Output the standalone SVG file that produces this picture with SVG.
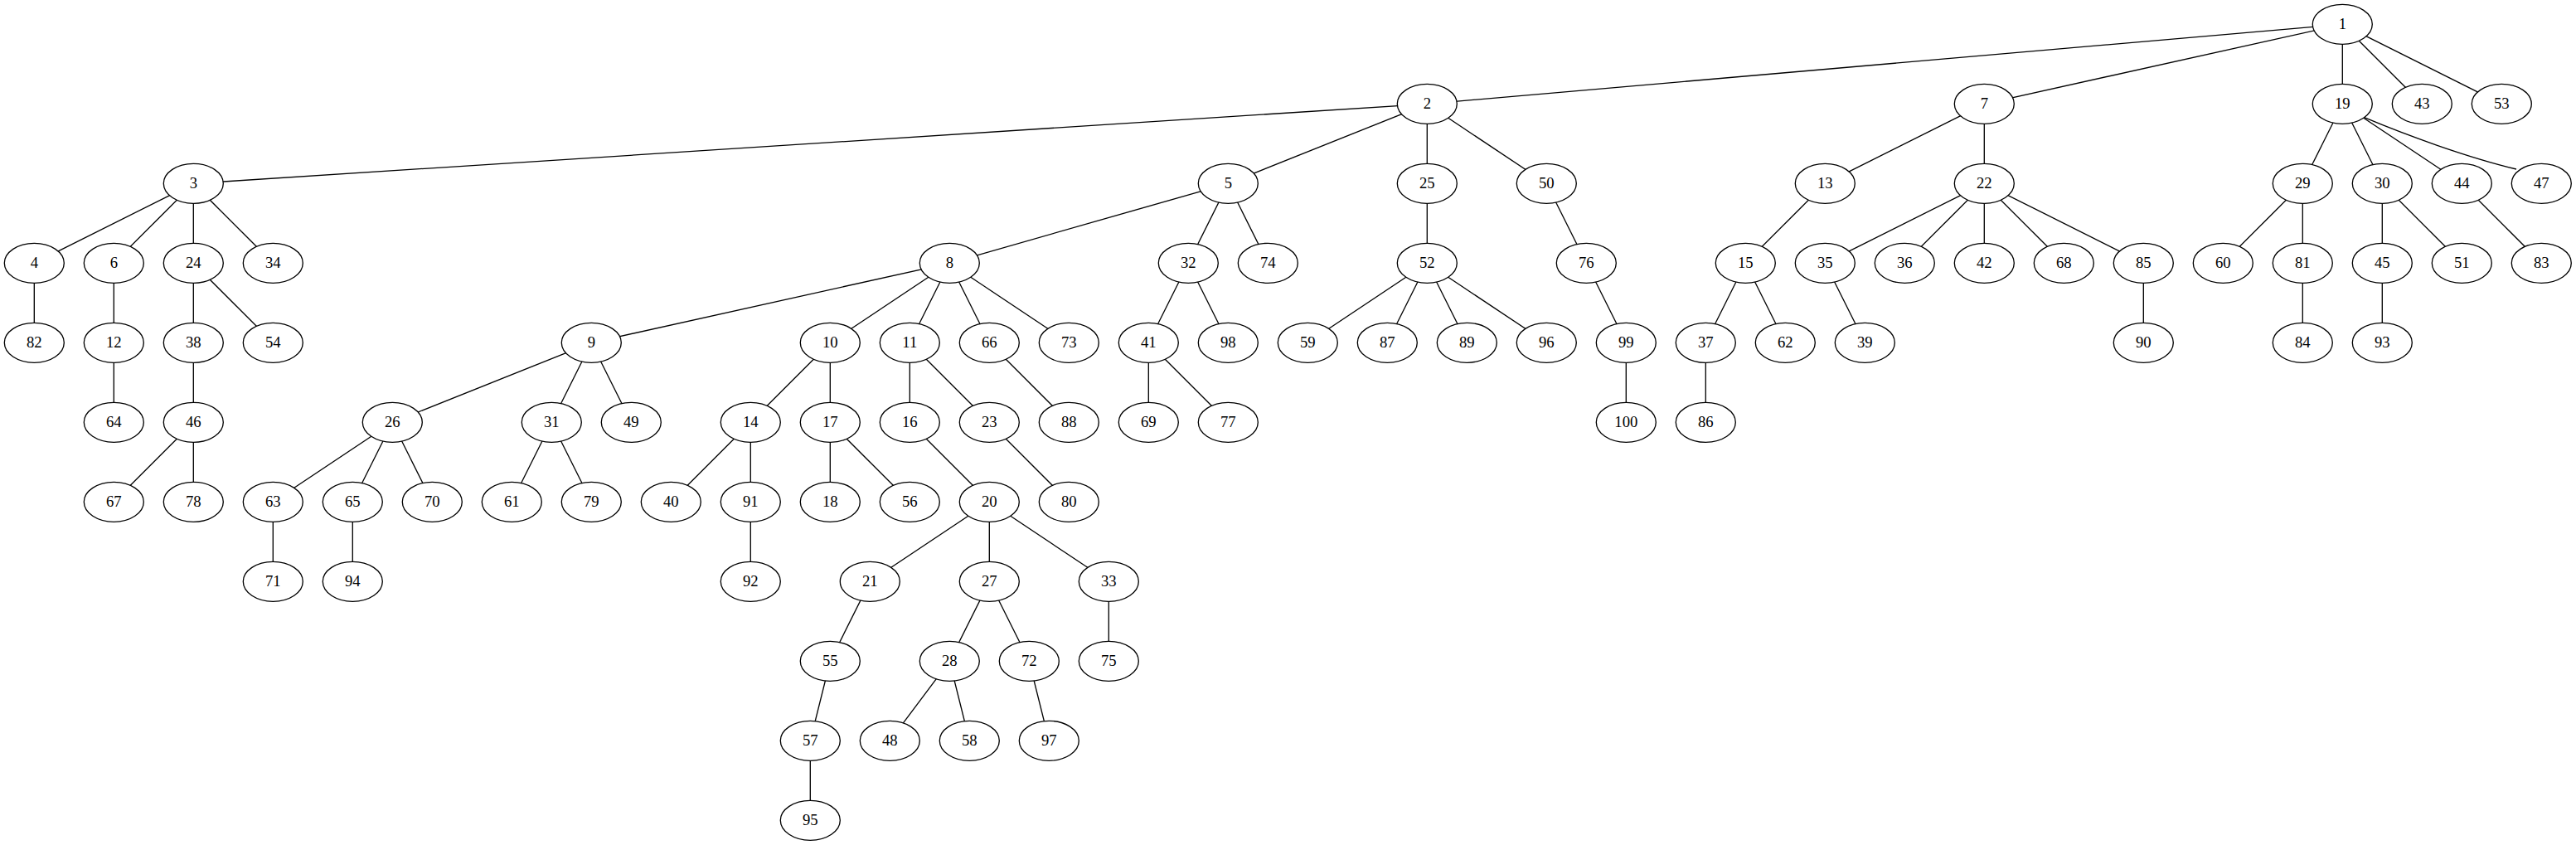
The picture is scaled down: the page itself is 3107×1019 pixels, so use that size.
<svg xmlns="http://www.w3.org/2000/svg" width="3107" height="1019" viewBox="0 0 3107 1019">
<style>
.e line, .e path { stroke: #000; stroke-width: 1.33; fill: none; }
.n ellipse { fill: #fff; stroke: #000; stroke-width: 1.33; }
.n text { font-family: "Liberation Serif", "Times New Roman", serif; font-size: 18.67px; text-anchor: middle; fill: #000; }
</style>
<rect x="0" y="0" width="3107" height="1019" fill="#fff"/>
<g id="connectors" class="e">
<line x1="2825.3" y1="29.3" x2="1721.3" y2="125.3"/>
<line x1="2825.3" y1="29.3" x2="2393.3" y2="125.3"/>
<line x1="2825.3" y1="29.3" x2="2825.3" y2="125.3"/>
<line x1="2825.3" y1="29.3" x2="2921.3" y2="125.3"/>
<line x1="2825.3" y1="29.3" x2="3017.3" y2="125.3"/>
<line x1="1721.3" y1="125.3" x2="233.3" y2="221.3"/>
<line x1="1721.3" y1="125.3" x2="1481.3" y2="221.3"/>
<line x1="1721.3" y1="125.3" x2="1721.3" y2="221.3"/>
<line x1="1721.3" y1="125.3" x2="1865.3" y2="221.3"/>
<line x1="233.3" y1="221.3" x2="41.3" y2="317.3"/>
<line x1="233.3" y1="221.3" x2="137.3" y2="317.3"/>
<line x1="233.3" y1="221.3" x2="233.3" y2="317.3"/>
<line x1="233.3" y1="221.3" x2="329.3" y2="317.3"/>
<line x1="41.3" y1="317.3" x2="41.3" y2="413.3"/>
<line x1="137.3" y1="317.3" x2="137.3" y2="413.3"/>
<line x1="137.3" y1="413.3" x2="137.3" y2="509.3"/>
<line x1="233.3" y1="317.3" x2="233.3" y2="413.3"/>
<line x1="233.3" y1="317.3" x2="329.3" y2="413.3"/>
<line x1="233.3" y1="413.3" x2="233.3" y2="509.3"/>
<line x1="233.3" y1="509.3" x2="137.3" y2="605.3"/>
<line x1="233.3" y1="509.3" x2="233.3" y2="605.3"/>
<line x1="1481.3" y1="221.3" x2="1145.3" y2="317.3"/>
<line x1="1481.3" y1="221.3" x2="1433.3" y2="317.3"/>
<line x1="1481.3" y1="221.3" x2="1529.3" y2="317.3"/>
<line x1="1145.3" y1="317.3" x2="713.3" y2="413.3"/>
<line x1="1145.3" y1="317.3" x2="1001.3" y2="413.3"/>
<line x1="1145.3" y1="317.3" x2="1097.3" y2="413.3"/>
<line x1="1145.3" y1="317.3" x2="1193.3" y2="413.3"/>
<line x1="1145.3" y1="317.3" x2="1289.3" y2="413.3"/>
<line x1="713.3" y1="413.3" x2="473.3" y2="509.3"/>
<line x1="713.3" y1="413.3" x2="665.3" y2="509.3"/>
<line x1="713.3" y1="413.3" x2="761.3" y2="509.3"/>
<line x1="473.3" y1="509.3" x2="329.3" y2="605.3"/>
<line x1="473.3" y1="509.3" x2="425.3" y2="605.3"/>
<line x1="473.3" y1="509.3" x2="521.3" y2="605.3"/>
<line x1="329.3" y1="605.3" x2="329.3" y2="701.3"/>
<line x1="425.3" y1="605.3" x2="425.3" y2="701.3"/>
<line x1="665.3" y1="509.3" x2="617.3" y2="605.3"/>
<line x1="665.3" y1="509.3" x2="713.3" y2="605.3"/>
<line x1="1001.3" y1="413.3" x2="905.3" y2="509.3"/>
<line x1="1001.3" y1="413.3" x2="1001.3" y2="509.3"/>
<line x1="905.3" y1="509.3" x2="809.3" y2="605.3"/>
<line x1="905.3" y1="509.3" x2="905.3" y2="605.3"/>
<line x1="905.3" y1="605.3" x2="905.3" y2="701.3"/>
<line x1="1001.3" y1="509.3" x2="1001.3" y2="605.3"/>
<line x1="1001.3" y1="509.3" x2="1097.3" y2="605.3"/>
<line x1="1097.3" y1="413.3" x2="1097.3" y2="509.3"/>
<line x1="1097.3" y1="413.3" x2="1193.3" y2="509.3"/>
<line x1="1097.3" y1="509.3" x2="1193.3" y2="605.3"/>
<line x1="1193.3" y1="605.3" x2="1049.3" y2="701.3"/>
<line x1="1193.3" y1="605.3" x2="1193.3" y2="701.3"/>
<line x1="1193.3" y1="605.3" x2="1337.3" y2="701.3"/>
<line x1="1049.3" y1="701.3" x2="1001.3" y2="797.3"/>
<line x1="1001.3" y1="797.3" x2="977.3" y2="893.3"/>
<line x1="977.3" y1="893.3" x2="977.3" y2="989.3"/>
<line x1="1193.3" y1="701.3" x2="1145.3" y2="797.3"/>
<line x1="1193.3" y1="701.3" x2="1241.3" y2="797.3"/>
<line x1="1145.3" y1="797.3" x2="1073.3" y2="893.3"/>
<line x1="1145.3" y1="797.3" x2="1169.3" y2="893.3"/>
<line x1="1241.3" y1="797.3" x2="1265.3" y2="893.3"/>
<line x1="1337.3" y1="701.3" x2="1337.3" y2="797.3"/>
<line x1="1193.3" y1="509.3" x2="1289.3" y2="605.3"/>
<line x1="1193.3" y1="413.3" x2="1289.3" y2="509.3"/>
<line x1="1433.3" y1="317.3" x2="1385.3" y2="413.3"/>
<line x1="1433.3" y1="317.3" x2="1481.3" y2="413.3"/>
<line x1="1385.3" y1="413.3" x2="1385.3" y2="509.3"/>
<line x1="1385.3" y1="413.3" x2="1481.3" y2="509.3"/>
<line x1="1721.3" y1="221.3" x2="1721.3" y2="317.3"/>
<line x1="1721.3" y1="317.3" x2="1577.3" y2="413.3"/>
<line x1="1721.3" y1="317.3" x2="1673.3" y2="413.3"/>
<line x1="1721.3" y1="317.3" x2="1769.3" y2="413.3"/>
<line x1="1721.3" y1="317.3" x2="1865.3" y2="413.3"/>
<line x1="1865.3" y1="221.3" x2="1913.3" y2="317.3"/>
<line x1="1913.3" y1="317.3" x2="1961.3" y2="413.3"/>
<line x1="1961.3" y1="413.3" x2="1961.3" y2="509.3"/>
<line x1="2393.3" y1="125.3" x2="2201.3" y2="221.3"/>
<line x1="2393.3" y1="125.3" x2="2393.3" y2="221.3"/>
<line x1="2201.3" y1="221.3" x2="2105.3" y2="317.3"/>
<line x1="2105.3" y1="317.3" x2="2057.3" y2="413.3"/>
<line x1="2105.3" y1="317.3" x2="2153.3" y2="413.3"/>
<line x1="2057.3" y1="413.3" x2="2057.3" y2="509.3"/>
<line x1="2393.3" y1="221.3" x2="2201.3" y2="317.3"/>
<line x1="2393.3" y1="221.3" x2="2297.3" y2="317.3"/>
<line x1="2393.3" y1="221.3" x2="2393.3" y2="317.3"/>
<line x1="2393.3" y1="221.3" x2="2489.3" y2="317.3"/>
<line x1="2393.3" y1="221.3" x2="2585.3" y2="317.3"/>
<line x1="2201.3" y1="317.3" x2="2249.3" y2="413.3"/>
<line x1="2585.3" y1="317.3" x2="2585.3" y2="413.3"/>
<line x1="2825.3" y1="125.3" x2="2777.3" y2="221.3"/>
<line x1="2825.3" y1="125.3" x2="2873.3" y2="221.3"/>
<line x1="2825.3" y1="125.3" x2="2969.3" y2="221.3"/>
<path d="M2851.7,141.7 C2901.7,162.7 2975,189.6 3035,204"/>
<line x1="2777.3" y1="221.3" x2="2681.3" y2="317.3"/>
<line x1="2777.3" y1="221.3" x2="2777.3" y2="317.3"/>
<line x1="2777.3" y1="317.3" x2="2777.3" y2="413.3"/>
<line x1="2873.3" y1="221.3" x2="2873.3" y2="317.3"/>
<line x1="2873.3" y1="221.3" x2="2969.3" y2="317.3"/>
<line x1="2873.3" y1="317.3" x2="2873.3" y2="413.3"/>
<line x1="2969.3" y1="221.3" x2="3065.3" y2="317.3"/>
</g>
<g id="nodes" class="n">
<g id="n1"><ellipse cx="2825.3" cy="29.3" rx="36" ry="24"/><text x="2825.3" y="35.3">1</text></g>
<g id="n2"><ellipse cx="1721.3" cy="125.3" rx="36" ry="24"/><text x="1721.3" y="131.3">2</text></g>
<g id="n7"><ellipse cx="2393.3" cy="125.3" rx="36" ry="24"/><text x="2393.3" y="131.3">7</text></g>
<g id="n19"><ellipse cx="2825.3" cy="125.3" rx="36" ry="24"/><text x="2825.3" y="131.3">19</text></g>
<g id="n43"><ellipse cx="2921.3" cy="125.3" rx="36" ry="24"/><text x="2921.3" y="131.3">43</text></g>
<g id="n53"><ellipse cx="3017.3" cy="125.3" rx="36" ry="24"/><text x="3017.3" y="131.3">53</text></g>
<g id="n3"><ellipse cx="233.3" cy="221.3" rx="36" ry="24"/><text x="233.3" y="227.3">3</text></g>
<g id="n5"><ellipse cx="1481.3" cy="221.3" rx="36" ry="24"/><text x="1481.3" y="227.3">5</text></g>
<g id="n25"><ellipse cx="1721.3" cy="221.3" rx="36" ry="24"/><text x="1721.3" y="227.3">25</text></g>
<g id="n50"><ellipse cx="1865.3" cy="221.3" rx="36" ry="24"/><text x="1865.3" y="227.3">50</text></g>
<g id="n13"><ellipse cx="2201.3" cy="221.3" rx="36" ry="24"/><text x="2201.3" y="227.3">13</text></g>
<g id="n22"><ellipse cx="2393.3" cy="221.3" rx="36" ry="24"/><text x="2393.3" y="227.3">22</text></g>
<g id="n29"><ellipse cx="2777.3" cy="221.3" rx="36" ry="24"/><text x="2777.3" y="227.3">29</text></g>
<g id="n30"><ellipse cx="2873.3" cy="221.3" rx="36" ry="24"/><text x="2873.3" y="227.3">30</text></g>
<g id="n44"><ellipse cx="2969.3" cy="221.3" rx="36" ry="24"/><text x="2969.3" y="227.3">44</text></g>
<g id="n47"><ellipse cx="3065.3" cy="221.3" rx="36" ry="24"/><text x="3065.3" y="227.3">47</text></g>
<g id="n4"><ellipse cx="41.3" cy="317.3" rx="36" ry="24"/><text x="41.3" y="323.3">4</text></g>
<g id="n6"><ellipse cx="137.3" cy="317.3" rx="36" ry="24"/><text x="137.3" y="323.3">6</text></g>
<g id="n24"><ellipse cx="233.3" cy="317.3" rx="36" ry="24"/><text x="233.3" y="323.3">24</text></g>
<g id="n34"><ellipse cx="329.3" cy="317.3" rx="36" ry="24"/><text x="329.3" y="323.3">34</text></g>
<g id="n8"><ellipse cx="1145.3" cy="317.3" rx="36" ry="24"/><text x="1145.3" y="323.3">8</text></g>
<g id="n32"><ellipse cx="1433.3" cy="317.3" rx="36" ry="24"/><text x="1433.3" y="323.3">32</text></g>
<g id="n74"><ellipse cx="1529.3" cy="317.3" rx="36" ry="24"/><text x="1529.3" y="323.3">74</text></g>
<g id="n52"><ellipse cx="1721.3" cy="317.3" rx="36" ry="24"/><text x="1721.3" y="323.3">52</text></g>
<g id="n76"><ellipse cx="1913.3" cy="317.3" rx="36" ry="24"/><text x="1913.3" y="323.3">76</text></g>
<g id="n15"><ellipse cx="2105.3" cy="317.3" rx="36" ry="24"/><text x="2105.3" y="323.3">15</text></g>
<g id="n35"><ellipse cx="2201.3" cy="317.3" rx="36" ry="24"/><text x="2201.3" y="323.3">35</text></g>
<g id="n36"><ellipse cx="2297.3" cy="317.3" rx="36" ry="24"/><text x="2297.3" y="323.3">36</text></g>
<g id="n42"><ellipse cx="2393.3" cy="317.3" rx="36" ry="24"/><text x="2393.3" y="323.3">42</text></g>
<g id="n68"><ellipse cx="2489.3" cy="317.3" rx="36" ry="24"/><text x="2489.3" y="323.3">68</text></g>
<g id="n85"><ellipse cx="2585.3" cy="317.3" rx="36" ry="24"/><text x="2585.3" y="323.3">85</text></g>
<g id="n60"><ellipse cx="2681.3" cy="317.3" rx="36" ry="24"/><text x="2681.3" y="323.3">60</text></g>
<g id="n81"><ellipse cx="2777.3" cy="317.3" rx="36" ry="24"/><text x="2777.3" y="323.3">81</text></g>
<g id="n45"><ellipse cx="2873.3" cy="317.3" rx="36" ry="24"/><text x="2873.3" y="323.3">45</text></g>
<g id="n51"><ellipse cx="2969.3" cy="317.3" rx="36" ry="24"/><text x="2969.3" y="323.3">51</text></g>
<g id="n83"><ellipse cx="3065.3" cy="317.3" rx="36" ry="24"/><text x="3065.3" y="323.3">83</text></g>
<g id="n82"><ellipse cx="41.3" cy="413.3" rx="36" ry="24"/><text x="41.3" y="419.3">82</text></g>
<g id="n12"><ellipse cx="137.3" cy="413.3" rx="36" ry="24"/><text x="137.3" y="419.3">12</text></g>
<g id="n38"><ellipse cx="233.3" cy="413.3" rx="36" ry="24"/><text x="233.3" y="419.3">38</text></g>
<g id="n54"><ellipse cx="329.3" cy="413.3" rx="36" ry="24"/><text x="329.3" y="419.3">54</text></g>
<g id="n9"><ellipse cx="713.3" cy="413.3" rx="36" ry="24"/><text x="713.3" y="419.3">9</text></g>
<g id="n10"><ellipse cx="1001.3" cy="413.3" rx="36" ry="24"/><text x="1001.3" y="419.3">10</text></g>
<g id="n11"><ellipse cx="1097.3" cy="413.3" rx="36" ry="24"/><text x="1097.3" y="419.3">11</text></g>
<g id="n66"><ellipse cx="1193.3" cy="413.3" rx="36" ry="24"/><text x="1193.3" y="419.3">66</text></g>
<g id="n73"><ellipse cx="1289.3" cy="413.3" rx="36" ry="24"/><text x="1289.3" y="419.3">73</text></g>
<g id="n41"><ellipse cx="1385.3" cy="413.3" rx="36" ry="24"/><text x="1385.3" y="419.3">41</text></g>
<g id="n98"><ellipse cx="1481.3" cy="413.3" rx="36" ry="24"/><text x="1481.3" y="419.3">98</text></g>
<g id="n59"><ellipse cx="1577.3" cy="413.3" rx="36" ry="24"/><text x="1577.3" y="419.3">59</text></g>
<g id="n87"><ellipse cx="1673.3" cy="413.3" rx="36" ry="24"/><text x="1673.3" y="419.3">87</text></g>
<g id="n89"><ellipse cx="1769.3" cy="413.3" rx="36" ry="24"/><text x="1769.3" y="419.3">89</text></g>
<g id="n96"><ellipse cx="1865.3" cy="413.3" rx="36" ry="24"/><text x="1865.3" y="419.3">96</text></g>
<g id="n99"><ellipse cx="1961.3" cy="413.3" rx="36" ry="24"/><text x="1961.3" y="419.3">99</text></g>
<g id="n37"><ellipse cx="2057.3" cy="413.3" rx="36" ry="24"/><text x="2057.3" y="419.3">37</text></g>
<g id="n62"><ellipse cx="2153.3" cy="413.3" rx="36" ry="24"/><text x="2153.3" y="419.3">62</text></g>
<g id="n39"><ellipse cx="2249.3" cy="413.3" rx="36" ry="24"/><text x="2249.3" y="419.3">39</text></g>
<g id="n90"><ellipse cx="2585.3" cy="413.3" rx="36" ry="24"/><text x="2585.3" y="419.3">90</text></g>
<g id="n84"><ellipse cx="2777.3" cy="413.3" rx="36" ry="24"/><text x="2777.3" y="419.3">84</text></g>
<g id="n93"><ellipse cx="2873.3" cy="413.3" rx="36" ry="24"/><text x="2873.3" y="419.3">93</text></g>
<g id="n64"><ellipse cx="137.3" cy="509.3" rx="36" ry="24"/><text x="137.3" y="515.3">64</text></g>
<g id="n46"><ellipse cx="233.3" cy="509.3" rx="36" ry="24"/><text x="233.3" y="515.3">46</text></g>
<g id="n26"><ellipse cx="473.3" cy="509.3" rx="36" ry="24"/><text x="473.3" y="515.3">26</text></g>
<g id="n31"><ellipse cx="665.3" cy="509.3" rx="36" ry="24"/><text x="665.3" y="515.3">31</text></g>
<g id="n49"><ellipse cx="761.3" cy="509.3" rx="36" ry="24"/><text x="761.3" y="515.3">49</text></g>
<g id="n14"><ellipse cx="905.3" cy="509.3" rx="36" ry="24"/><text x="905.3" y="515.3">14</text></g>
<g id="n17"><ellipse cx="1001.3" cy="509.3" rx="36" ry="24"/><text x="1001.3" y="515.3">17</text></g>
<g id="n16"><ellipse cx="1097.3" cy="509.3" rx="36" ry="24"/><text x="1097.3" y="515.3">16</text></g>
<g id="n23"><ellipse cx="1193.3" cy="509.3" rx="36" ry="24"/><text x="1193.3" y="515.3">23</text></g>
<g id="n88"><ellipse cx="1289.3" cy="509.3" rx="36" ry="24"/><text x="1289.3" y="515.3">88</text></g>
<g id="n69"><ellipse cx="1385.3" cy="509.3" rx="36" ry="24"/><text x="1385.3" y="515.3">69</text></g>
<g id="n77"><ellipse cx="1481.3" cy="509.3" rx="36" ry="24"/><text x="1481.3" y="515.3">77</text></g>
<g id="n100"><ellipse cx="1961.3" cy="509.3" rx="36" ry="24"/><text x="1961.3" y="515.3">100</text></g>
<g id="n86"><ellipse cx="2057.3" cy="509.3" rx="36" ry="24"/><text x="2057.3" y="515.3">86</text></g>
<g id="n67"><ellipse cx="137.3" cy="605.3" rx="36" ry="24"/><text x="137.3" y="611.3">67</text></g>
<g id="n78"><ellipse cx="233.3" cy="605.3" rx="36" ry="24"/><text x="233.3" y="611.3">78</text></g>
<g id="n63"><ellipse cx="329.3" cy="605.3" rx="36" ry="24"/><text x="329.3" y="611.3">63</text></g>
<g id="n65"><ellipse cx="425.3" cy="605.3" rx="36" ry="24"/><text x="425.3" y="611.3">65</text></g>
<g id="n70"><ellipse cx="521.3" cy="605.3" rx="36" ry="24"/><text x="521.3" y="611.3">70</text></g>
<g id="n61"><ellipse cx="617.3" cy="605.3" rx="36" ry="24"/><text x="617.3" y="611.3">61</text></g>
<g id="n79"><ellipse cx="713.3" cy="605.3" rx="36" ry="24"/><text x="713.3" y="611.3">79</text></g>
<g id="n40"><ellipse cx="809.3" cy="605.3" rx="36" ry="24"/><text x="809.3" y="611.3">40</text></g>
<g id="n91"><ellipse cx="905.3" cy="605.3" rx="36" ry="24"/><text x="905.3" y="611.3">91</text></g>
<g id="n18"><ellipse cx="1001.3" cy="605.3" rx="36" ry="24"/><text x="1001.3" y="611.3">18</text></g>
<g id="n56"><ellipse cx="1097.3" cy="605.3" rx="36" ry="24"/><text x="1097.3" y="611.3">56</text></g>
<g id="n20"><ellipse cx="1193.3" cy="605.3" rx="36" ry="24"/><text x="1193.3" y="611.3">20</text></g>
<g id="n80"><ellipse cx="1289.3" cy="605.3" rx="36" ry="24"/><text x="1289.3" y="611.3">80</text></g>
<g id="n71"><ellipse cx="329.3" cy="701.3" rx="36" ry="24"/><text x="329.3" y="707.3">71</text></g>
<g id="n94"><ellipse cx="425.3" cy="701.3" rx="36" ry="24"/><text x="425.3" y="707.3">94</text></g>
<g id="n92"><ellipse cx="905.3" cy="701.3" rx="36" ry="24"/><text x="905.3" y="707.3">92</text></g>
<g id="n21"><ellipse cx="1049.3" cy="701.3" rx="36" ry="24"/><text x="1049.3" y="707.3">21</text></g>
<g id="n27"><ellipse cx="1193.3" cy="701.3" rx="36" ry="24"/><text x="1193.3" y="707.3">27</text></g>
<g id="n33"><ellipse cx="1337.3" cy="701.3" rx="36" ry="24"/><text x="1337.3" y="707.3">33</text></g>
<g id="n55"><ellipse cx="1001.3" cy="797.3" rx="36" ry="24"/><text x="1001.3" y="803.3">55</text></g>
<g id="n28"><ellipse cx="1145.3" cy="797.3" rx="36" ry="24"/><text x="1145.3" y="803.3">28</text></g>
<g id="n72"><ellipse cx="1241.3" cy="797.3" rx="36" ry="24"/><text x="1241.3" y="803.3">72</text></g>
<g id="n75"><ellipse cx="1337.3" cy="797.3" rx="36" ry="24"/><text x="1337.3" y="803.3">75</text></g>
<g id="n57"><ellipse cx="977.3" cy="893.3" rx="36" ry="24"/><text x="977.3" y="899.3">57</text></g>
<g id="n48"><ellipse cx="1073.3" cy="893.3" rx="36" ry="24"/><text x="1073.3" y="899.3">48</text></g>
<g id="n58"><ellipse cx="1169.3" cy="893.3" rx="36" ry="24"/><text x="1169.3" y="899.3">58</text></g>
<g id="n97"><ellipse cx="1265.3" cy="893.3" rx="36" ry="24"/><text x="1265.3" y="899.3">97</text></g>
<g id="n95"><ellipse cx="977.3" cy="989.3" rx="36" ry="24"/><text x="977.3" y="995.3">95</text></g>
</g>
</svg>
